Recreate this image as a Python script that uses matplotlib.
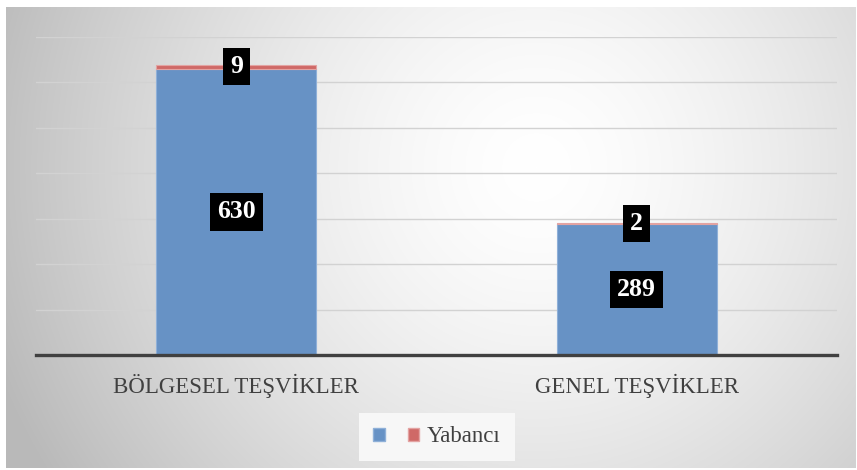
import numpy as np
import matplotlib
matplotlib.use("Agg")
import matplotlib.pyplot as plt
from matplotlib.patches import Patch

categories = ["BÖLGESEL TEŞVİKLER", "GENEL TEŞVİKLER"]
series_names = ["", "Yabancı"]
yerli = [630, 289]
yabanci = [9, 2]
y_ticks = [0, 100, 200, 300, 400, 500, 600, 700]

W, H = 857, 470
fig = plt.figure(figsize=(W / 100, H / 100), dpi=100)
fig.patch.set_facecolor("white")

# background radial gradient
bg = fig.add_axes([6 / W, 2 / H, 850 / W, 461 / H])
yy, xx = np.mgrid[0:461, 0:850]
cx, cy = 530, 160
d = np.sqrt((xx - cx) ** 2 + (yy - cy) ** 2)
g = 255 - 63 * np.clip(d / 540, 0, 1.2) ** 1.5
g = np.clip(g, 185, 255) / 255.0
img = np.dstack([g, g, g])
bg.imshow(img, aspect="auto", interpolation="bilinear")
bg.set_axis_off()

ax = fig.add_axes([36 / W, 115 / H, 801 / W, 318 / H])
ax.set_facecolor("none")
x = np.arange(len(categories))
blue = "#6792c5"
red = "#cf6967"
ax.bar(x, yerli, width=0.4, color=blue, edgecolor="#8fb0d8", linewidth=0.8, zorder=3)
ax.bar(x, yabanci, width=0.4, bottom=yerli, color=red, edgecolor="#e3a3a2", linewidth=0.8, zorder=3)

ax.set_xlim(-0.5, 1.5)
ax.set_ylim(0, 700)
ax.set_yticks(y_ticks)
ax.yaxis.grid(True, color="#d2d2d2", linewidth=1.0, zorder=0)
ax.tick_params(axis="y", left=False, labelleft=False)
ax.tick_params(axis="x", bottom=False, pad=10)
ax.set_xticks(x)
ax.set_xticklabels(categories, fontfamily="Liberation Serif", fontsize=16.5, color="#404040")
for s in ["top", "right", "left"]:
    ax.spines[s].set_visible(False)
ax.spines["bottom"].set_color("#404040")
ax.spines["bottom"].set_linewidth(2.4)
ax.spines["bottom"].set_zorder(4)

lab_kw = dict(ha="center", va="center", color="white", fontsize=18.5, fontweight="bold",
              fontfamily="Liberation Serif", zorder=5,
              bbox=dict(boxstyle="square,pad=0.28", facecolor="black", edgecolor="none"))
for i in range(len(categories)):
    ax.text(x[i], yerli[i] / 2, str(yerli[i]), **lab_kw)
    ax.text(x[i], yerli[i] + yabanci[i] / 2, str(yabanci[i]), **lab_kw)

handles = [Patch(facecolor=blue, edgecolor="#8fb0d8"), Patch(facecolor=red, edgecolor="#e3a3a2")]
leg = fig.legend(handles, series_names, ncol=2, loc="center",
                 bbox_to_anchor=(437 / W, 1 - 437 / H),
                 frameon=True, facecolor="#f7f7f7", edgecolor="none", fancybox=False,
                 prop=dict(family="Liberation Serif", size=16.5),
                 handlelength=0.5, handleheight=0.5, handletextpad=0.35,
                 columnspacing=0.65, borderpad=0.6, framealpha=1)
for t in leg.get_texts():
    t.set_color("#404040")

fig.savefig("out.png", dpi=100)
